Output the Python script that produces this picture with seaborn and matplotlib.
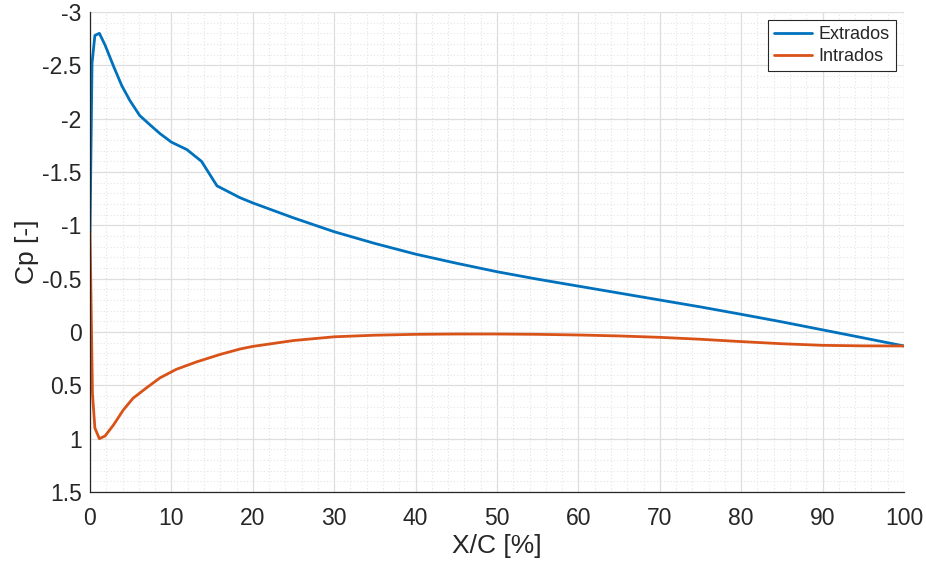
import matplotlib
matplotlib.use("Agg")
import matplotlib.pyplot as plt
from matplotlib.ticker import MultipleLocator, FuncFormatter
import seaborn as sns
import pandas as pd

x_ext = [0, 0.25, 0.6, 1.15, 1.85, 2.9, 3.9, 4.9, 6.1, 7.4, 8.6, 10, 11.9, 13.7, 15.6,
         18.4, 20, 25, 30, 35, 40, 45, 50, 55, 60, 65, 70, 75, 80, 85, 90, 95, 100]
cp_ext = [-0.94, -2.52, -2.78, -2.80, -2.69, -2.49, -2.31, -2.17, -2.03, -1.94, -1.86,
          -1.78, -1.71, -1.60, -1.37, -1.26, -1.21, -1.07, -0.94, -0.83, -0.73, -0.645,
          -0.565, -0.495, -0.43, -0.365, -0.30, -0.235, -0.166, -0.095, -0.02, 0.055, 0.131]

x_int = [0, 0.3, 0.6, 1.15, 1.85, 2.9, 4.1, 5.3, 7.0, 8.6, 10.6, 13.1, 16, 18.4, 20, 25,
         30, 35, 40, 45, 50, 55, 60, 65, 70, 75, 80, 85, 90, 95, 100]
cp_int = [-0.94, 0.575, 0.90, 1.0, 0.975, 0.87, 0.73, 0.62, 0.52, 0.43, 0.35, 0.28, 0.21,
          0.16, 0.135, 0.08, 0.045, 0.03, 0.022, 0.019, 0.019, 0.022, 0.028, 0.037, 0.05,
          0.068, 0.09, 0.11, 0.125, 0.13, 0.131]

series_names = ["Extrados", "Intrados"]
colors = ["#0072BD", "#D95319"]

x_ticks = [0, 10, 20, 30, 40, 50, 60, 70, 80, 90, 100]
y_ticks = [-3, -2.5, -2, -1.5, -1, -0.5, 0, 0.5, 1, 1.5]

df = pd.concat([
    pd.DataFrame({"x": x_ext, "cp": cp_ext, "s": series_names[0]}),
    pd.DataFrame({"x": x_int, "cp": cp_int, "s": series_names[1]}),
])

sns.set_theme(style="white")
plt.rcParams["font.family"] = ["Liberation Sans", "DejaVu Sans"]
plt.rcParams["axes.unicode_minus"] = False

fig = plt.figure(figsize=(9.26, 5.66), dpi=100)
ax = fig.add_axes([90 / 926, 74 / 566, 814 / 926, 480 / 566])

sns.lineplot(data=df, x="x", y="cp", hue="s", palette=colors, sort=False,
             estimator=None, units="s", ax=ax, linewidth=2.0, legend=True)

ax.set_xlim(0, 100)
ax.set_ylim(1.5, -3)
ax.set_xticks(x_ticks)
ax.set_yticks(y_ticks)
ax.xaxis.set_minor_locator(MultipleLocator(2))
ax.yaxis.set_minor_locator(MultipleLocator(0.1))
ax.yaxis.set_major_formatter(FuncFormatter(lambda v, p: "%g" % v))
ax.xaxis.set_major_formatter(FuncFormatter(lambda v, p: "%g" % v))

ax.grid(True, which="major", color="#dedede", linewidth=0.9, linestyle="-")
ax.grid(True, which="minor", color="#e4e4e4", linewidth=0.8, linestyle=(0, (1, 2)))
ax.set_axisbelow(True)

for side in ["top", "right"]:
    ax.spines[side].set_visible(False)
for side in ["left", "bottom"]:
    ax.spines[side].set_color("#262626")
    ax.spines[side].set_linewidth(0.9)

ax.tick_params(axis="both", which="major", direction="in", length=5, width=0.9,
               color="#262626", labelcolor="#262626", labelsize=16.5)
ax.tick_params(axis="x", which="major", pad=11)
ax.tick_params(axis="y", which="major", pad=6)
ax.tick_params(axis="both", which="minor", length=0)

ax.set_xlabel("X/C [%]", fontsize=19, color="#262626", labelpad=3)
ax.set_ylabel("Cp [-]", fontsize=19, color="#262626", labelpad=2)

leg = ax.legend(loc="upper right", fontsize=13, frameon=True, fancybox=False,
                edgecolor="#262626", framealpha=1, handlelength=2.1, handletextpad=0.35,
                borderpad=0.35, labelspacing=0.25, borderaxespad=0.45)
leg.get_frame().set_linewidth(0.8)
for line in leg.get_lines():
    line.set_linewidth(2.0)

fig.savefig("out.png", dpi=100, facecolor="white")
